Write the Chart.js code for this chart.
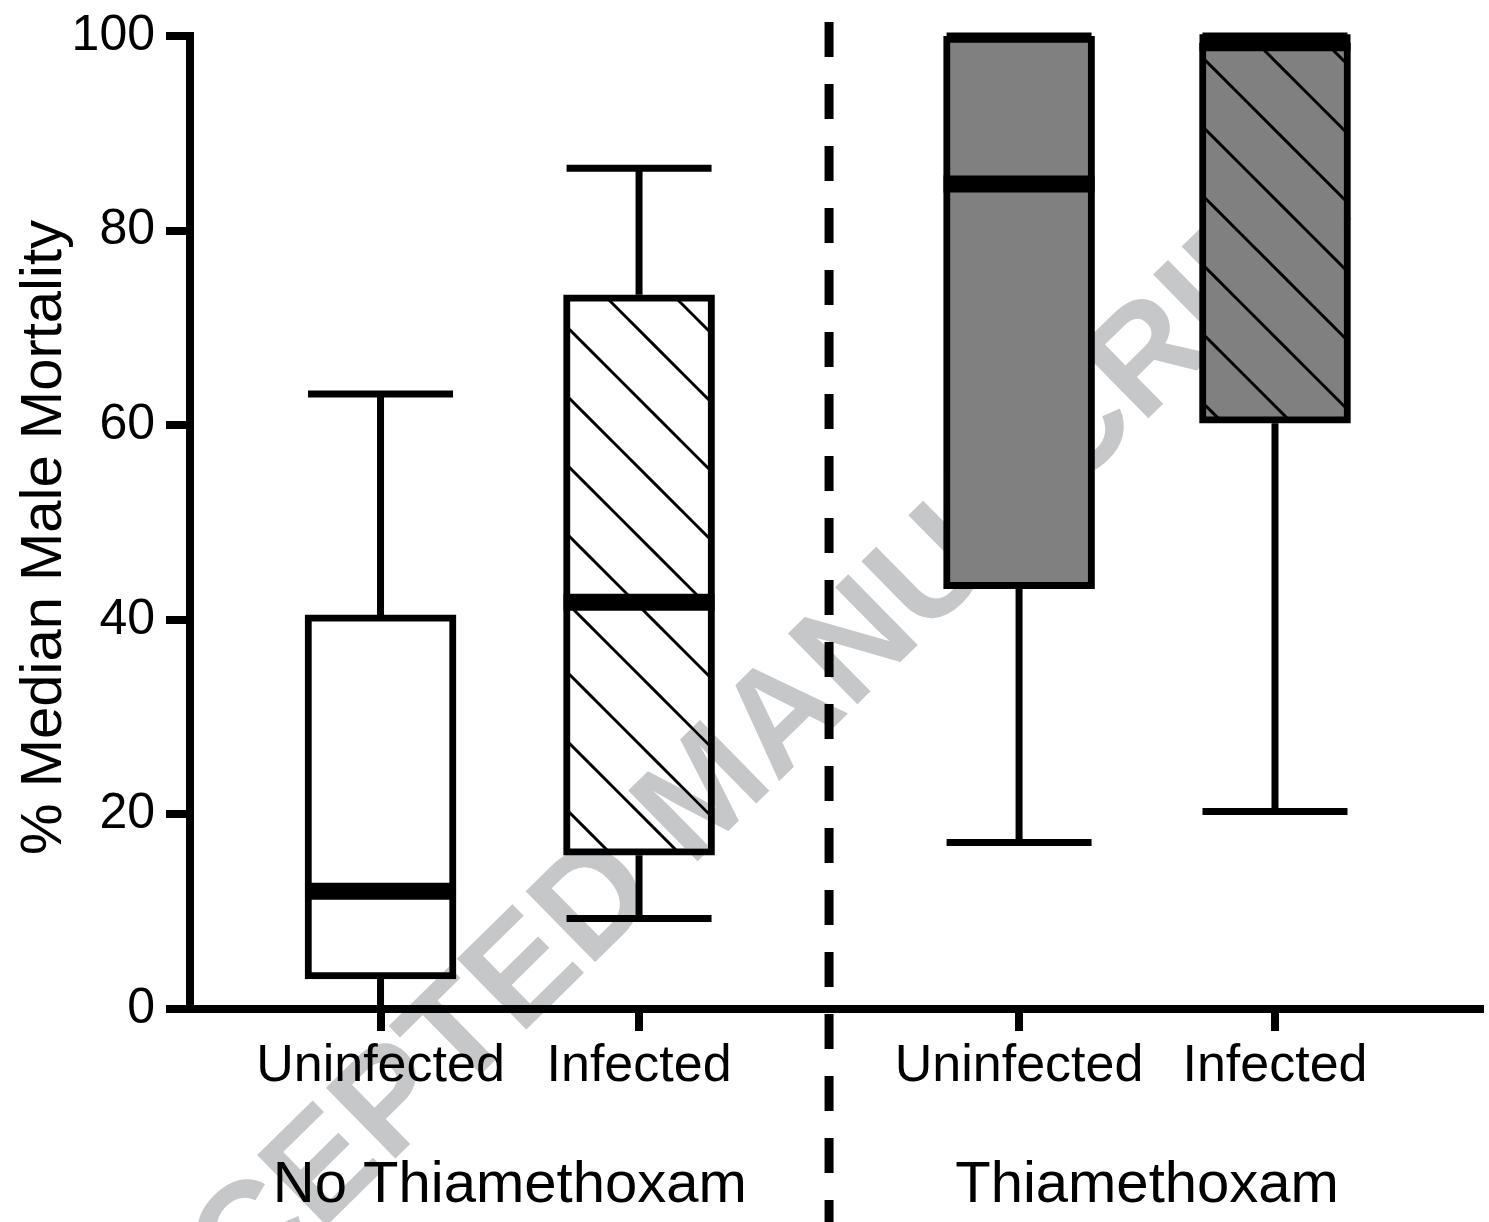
<!DOCTYPE html>
<html>
<head>
<meta charset="utf-8">
<script src="https://cdn.jsdelivr.net/npm/chart.js@4.4.1/dist/chart.umd.min.js"></script>
<style>
  html, body { margin: 0; padding: 0; background: #fff; }
  canvas { display: block; }
</style>
</head>
<body>
<canvas id="chart" width="1489" height="1222"></canvas>
<script>
// Data (% median male mortality)
const categories = ['Uninfected', 'Infected', 'Uninfected', 'Infected'];
const groups = ['No Thiamethoxam', 'Thiamethoxam'];
const mins    = [0,    9.3,  17.1, 20.3];
const q1s     = [3.1,  15.8, 43.2, 60.2];
const medians = [12.1, 41.8, 84.8, 99.3];
const q3s     = [40.5, 73.4, 100,  99.3];
const maxs    = [63.2, 86.4, 100,  100];
const yTicks  = [0, 20, 40, 60, 80, 100];

// where the boxes sit on the x axis (gap between the two groups)
const xPos = [1, 2, 3.47, 4.46];

const FONT = '"Liberation Sans", Arial, sans-serif';
Chart.defaults.font.family = FONT;
Chart.defaults.color = '#000';

const canvas = document.getElementById('chart');
const ctx = canvas.getContext('2d');

// diagonal hatch fill
function hatch(bg, phase) {
    const s = 69;
    const c = document.createElement('canvas');
    c.width = s; c.height = s;
    const g = c.getContext('2d');
    g.fillStyle = bg;
    g.fillRect(0, 0, s, s);
    g.strokeStyle = '#000';
    g.lineWidth = 3;
    [-s, 0, s].forEach(o => {
        g.beginPath();
        g.moveTo(-5, -5 + phase + o);
        g.lineTo(s + 5, s + 5 + phase + o);
        g.stroke();
    });
    return ctx.createPattern(c, 'repeat');
}

const fills = ['#ffffff', hatch('#ffffff', 36), '#808080', hatch('#808080', 28)];

// whiskers, medians, divider, labels, watermark
const boxExtras = {
    id: 'boxExtras',
    afterDatasetsDraw(chart) {
        const c = chart.ctx;
        const x = chart.scales.x, y = chart.scales.y;
        const half = 151 / 2;
        c.save();
        c.strokeStyle = '#000';
        c.lineCap = 'butt';
        xPos.forEach((v, i) => {
            const px = x.getPixelForValue(v);
            c.lineWidth = 7;
            c.beginPath();
            c.moveTo(px, y.getPixelForValue(q3s[i]));
            c.lineTo(px, y.getPixelForValue(maxs[i]));
            c.moveTo(px, y.getPixelForValue(q1s[i]));
            c.lineTo(px, y.getPixelForValue(mins[i]));
            c.moveTo(px - half + 3, y.getPixelForValue(maxs[i]));
            c.lineTo(px + half - 3, y.getPixelForValue(maxs[i]));
            c.moveTo(px - half + 3, y.getPixelForValue(mins[i]));
            c.lineTo(px + half - 3, y.getPixelForValue(mins[i]));
            c.stroke();
            c.lineWidth = 17;
            c.beginPath();
            c.moveTo(px - half, y.getPixelForValue(medians[i]));
            c.lineTo(px + half, y.getPixelForValue(medians[i]));
            c.stroke();
        });
        c.restore();
    },
    afterDraw(chart) {
        const c = chart.ctx;
        const x = chart.scales.x, y = chart.scales.y;
        c.save();
        // dashed separator
        const dx = (x.getPixelForValue(xPos[1]) + x.getPixelForValue(xPos[2])) / 2;
        c.strokeStyle = '#000';
        c.lineWidth = 9;
        c.setLineDash([35, 27]);
        c.beginPath();
        c.moveTo(dx, 22);
        c.lineTo(dx, chart.height);
        c.stroke();
        c.setLineDash([]);
        // group labels
        c.fillStyle = '#000';
        c.font = '58px ' + FONT;
        c.textAlign = 'center';
        c.textBaseline = 'alphabetic';
        groups.forEach((g, i) => {
            const gx = (x.getPixelForValue(xPos[2 * i]) + x.getPixelForValue(xPos[2 * i + 1])) / 2;
            c.fillText(g, gx, 1202);
        });
        // y axis title
        c.save();
        c.translate(61, (y.top + y.bottom) / 2 + 15);
        c.rotate(-Math.PI / 2);
        c.fillText('% Median Male Mortality', 0, 0);
        c.restore();
        // watermark
        c.globalCompositeOperation = 'darken';
        c.translate(700, 786);
        c.rotate(-44.5 * Math.PI / 180);
        c.fillStyle = '#c6c7c9';
        c.font = 'bold 144px ' + FONT;
        c.fillText('ACCEPTED MANUSCRIPT', 0, 52);
        c.restore();
    }
};

const chart = new Chart(ctx, {
    type: 'bar',
    data: {
        datasets: [{
            data: xPos.map((v, i) => ({ x: v, y: [q1s[i], q3s[i]] })),
            backgroundColor: fills,
            borderColor: '#000',
            borderWidth: 7,
            borderSkipped: false,
            barThickness: 151
        }]
    },
    options: {
        responsive: false,
        animation: false,
        layout: { padding: { top: 31.5, right: 9, left: 0, bottom: 0 } },
        plugins: { legend: { display: false }, tooltip: { enabled: false } },
        scales: {
            x: {
                type: 'linear',
                min: 0.263,
                max: 5.253,
                offset: false,
                afterBuildTicks: axis => { axis.ticks = xPos.map(v => ({ value: v })); },
                afterFit: axis => { axis.height = 1222 - 1009; },
                grid: { display: true, drawOnChartArea: false, drawTicks: true, tickLength: 22, lineWidth: 8, color: '#000', offset: false },
                border: { display: true, color: '#000', width: 8 },
                ticks: {
                    autoSkip: false,
                    maxRotation: 0,
                    padding: 4,
                    font: { size: 52 },
                    callback: (v, i) => categories[i]
                }
            },
            y: {
                min: 0,
                max: 100,
                afterBuildTicks: axis => { axis.ticks = yTicks.map(v => ({ value: v })); },
                afterFit: axis => { axis.width = 190; },
                grid: { display: true, drawOnChartArea: false, drawTicks: true, tickLength: 24, lineWidth: 8, color: '#000' },
                border: { display: true, color: '#000', width: 8 },
                ticks: { padding: 11, font: { size: 50, lineHeight: 1 } }
            }
        }
    },
    plugins: [boxExtras]
});

// pin the plot area to the reference frame (top at 100, bottom at 0)
for (let k = 0; k < 5; k++) {
    const dTop = chart.chartArea.top - 31.5;
    const dBot = chart.chartArea.bottom - 1009;
    if (Math.abs(dTop) < 0.2 && Math.abs(dBot) < 0.2) break;
    chart.options.layout.padding.top -= dTop;
    chart.options.layout.padding.bottom += dBot;
    chart.update();
}
</script>
</body>
</html>
